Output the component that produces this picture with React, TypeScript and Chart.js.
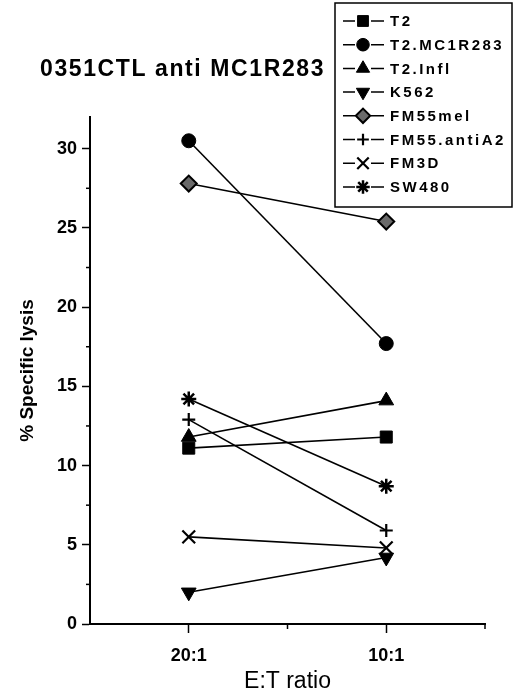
import { useEffect, useRef } from 'react';
import { Chart, registerables } from 'chart.js';
import { drawPoint } from 'chart.js/helpers';

Chart.register(...registerables);

// ---- data ----
const ratios = ['20:1', '10:1'];
const seriesNames = ['T2', 'T2.MC1R283', 'T2.Infl', 'K562', 'FM55mel', 'FM55.antiA2', 'FM3D', 'SW480'];
const t2 = [11.1, 11.8];
const t2Mc1r283 = [30.5, 17.7];
const t2Infl = [11.8, 14.1];
const k562 = [2.0, 4.2];
const fm55mel = [27.8, 25.4];
const fm55AntiA2 = [12.9, 5.9];
const fm3d = [5.5, 4.8];
const sw480 = [14.2, 8.7];
const seriesValues = [t2, t2Mc1r283, t2Infl, k562, fm55mel, fm55AntiA2, fm3d, sw480];
const chartTitle = '0351CTL anti MC1R283';
const yTitle = '% Specific lysis';
const xTitle = 'E:T ratio';

// ---- styles ----
const FONT = '"Liberation Sans", Arial, Helvetica, sans-serif';
const markerStyles = [
  { pointStyle: 'rect', radius: 8.5, rotation: 0, fill: '#000', bw: 1 },
  { pointStyle: 'circle', radius: 7, rotation: 0, fill: '#000', bw: 1 },
  { pointStyle: 'triangle', radius: 8.5, rotation: 0, fill: '#000', bw: 1 },
  { pointStyle: 'triangle', radius: 8.5, rotation: 180, fill: '#000', bw: 1 },
  { pointStyle: 'rectRot', radius: 8, rotation: 0, fill: '#6a6a6a', bw: 2 },
  { pointStyle: 'cross', radius: 6.5, rotation: 0, fill: '#000', bw: 2.2 },
  { pointStyle: 'crossRot', radius: 9, rotation: 0, fill: '#000', bw: 2.2 },
  { pointStyle: 'star', radius: 7.5, rotation: 0, fill: '#000', bw: 2.5 },
];

const decorPlugin = {
  id: 'decor',
  afterDraw(chart: any) {
    const ctx = chart.ctx as CanvasRenderingContext2D;
    const ys = chart.scales.y;
    const xs = chart.scales.x;
    ctx.save();
    // minor ticks
    ctx.strokeStyle = '#000';
    ctx.lineWidth = 1.5;
    ys.ticks.forEach((t: any) => {
      if (t.value % 5 !== 0) {
        const py = ys.getPixelForValue(t.value);
        ctx.beginPath();
        ctx.moveTo(ys.right - 4, py);
        ctx.lineTo(ys.right, py);
        ctx.stroke();
      }
    });
    xs.ticks.forEach((t: any) => {
      if (!Number.isInteger(t.value) && t.value > xs.min) {
        const px = xs.getPixelForValue(t.value);
        ctx.beginPath();
        ctx.moveTo(px, xs.top);
        ctx.lineTo(px, xs.top + 5);
        ctx.stroke();
      }
    });
    // title
    ctx.fillStyle = '#000';
    ctx.font = `bold 23px ${FONT}`;
    (ctx as any).letterSpacing = '1.6px';
    ctx.textAlign = 'left';
    ctx.textBaseline = 'middle';
    ctx.fillText(chartTitle, 40, 70);
    // legend box
    (ctx as any).letterSpacing = '0px';
    ctx.lineWidth = 1.5;
    ctx.strokeRect(335, 3, 177, 204);
    seriesNames.forEach((name, i) => {
      const y = 21 + i * 23.7;
      const m = markerStyles[i];
      ctx.strokeStyle = '#000';
      ctx.lineWidth = 1.5;
      ctx.beginPath();
      ctx.moveTo(343, y);
      ctx.lineTo(355, y);
      ctx.moveTo(371, y);
      ctx.lineTo(384, y);
      ctx.stroke();
      ctx.fillStyle = m.fill;
      ctx.lineWidth = m.bw;
      drawPoint(ctx, { pointStyle: m.pointStyle, radius: m.radius * 0.9, rotation: m.rotation, borderWidth: m.bw } as any, 363, y);
      ctx.fillStyle = '#000';
      ctx.font = `bold 15px ${FONT}`;
      (ctx as any).letterSpacing = '2.5px';
      ctx.textAlign = 'left';
      ctx.textBaseline = 'middle';
      ctx.fillText(name, 390, y + 1);
    });
    ctx.restore();
  },
};

export default function App() {
  const ref = useRef<HTMLCanvasElement | null>(null);
  useEffect(() => {
    if (!ref.current) return;
    const datasets = seriesNames.map((name, i) => {
      const m = markerStyles[i];
      return {
        label: name,
        data: ratios.map((_, j) => ({ x: j, y: seriesValues[i][j] })),
        borderColor: '#000',
        borderWidth: 1.6,
        backgroundColor: m.fill,
        pointStyle: m.pointStyle,
        pointRadius: m.radius,
        pointRotation: m.rotation,
        pointBackgroundColor: m.fill,
        pointBorderColor: '#000',
        pointBorderWidth: m.bw,
        clip: false,
        tension: 0,
      };
    });
    const chart = new Chart(ref.current, {
      type: 'line',
      data: { datasets: datasets as any },
      plugins: [decorPlugin],
      options: {
        responsive: false,
        animation: false,
        devicePixelRatio: 1,
        layout: { padding: { top: 117, right: 30, left: 0, bottom: 0 } },
        plugins: { legend: { display: false }, tooltip: { enabled: false }, title: { display: false } },
        scales: {
          x: {
            type: 'linear',
            min: -0.5,
            max: 1.5,
            afterFit: (s: any) => { s.height = 71; },
            border: { display: true, color: '#000', width: 2 },
            grid: {
              drawOnChartArea: false,
              tickLength: 9,
              tickWidth: 1.5,
              tickColor: (c: any) => (c.tick && Number.isInteger(c.tick.value) ? '#000' : 'rgba(0,0,0,0)'),
            },
            ticks: {
              stepSize: 0.5,
              autoSkip: false,
              maxRotation: 0,
              padding: 12,
              color: '#000',
              font: { family: FONT, size: 18, weight: 'bold' },
              callback: (v: any) => (Number.isInteger(v) && v >= 0 && v < ratios.length ? ratios[v] : ''),
            },
            title: {
              display: true,
              text: xTitle,
              color: '#000',
              font: { family: FONT, size: 23, weight: 'normal' },
              padding: { top: 0, bottom: 0 },
            },
          },
          y: {
            type: 'linear',
            min: 0,
            max: 32,
            afterFit: (s: any) => { s.width = 90; },
            border: { display: true, color: '#000', width: 2 },
            grid: {
              drawOnChartArea: false,
              tickLength: 8,
              tickWidth: 1.5,
              tickColor: (c: any) => (c.tick && c.tick.value % 5 === 0 ? '#000' : 'rgba(0,0,0,0)'),
            },
            ticks: {
              stepSize: 2.5,
              includeBounds: false,
              autoSkip: false,
              padding: 5,
              color: '#000',
              font: { family: FONT, size: 18, weight: 'bold' },
              callback: (v: any) => (v % 5 === 0 ? String(v) : ''),
            },
            title: {
              display: true,
              text: yTitle,
              color: '#000',
              font: { family: FONT, size: 19, weight: 'bold' },
              padding: { top: 16, bottom: 0 },
            },
          },
        },
      } as any,
    });
    return () => chart.destroy();
  }, []);
  return (
    <div style={{ position: 'absolute', left: 0, top: 0, width: 515, height: 695, background: '#fff' }}>
      <canvas ref={ref} width={515} height={695} style={{ display: 'block', width: 515, height: 695 }} />
    </div>
  );
}
